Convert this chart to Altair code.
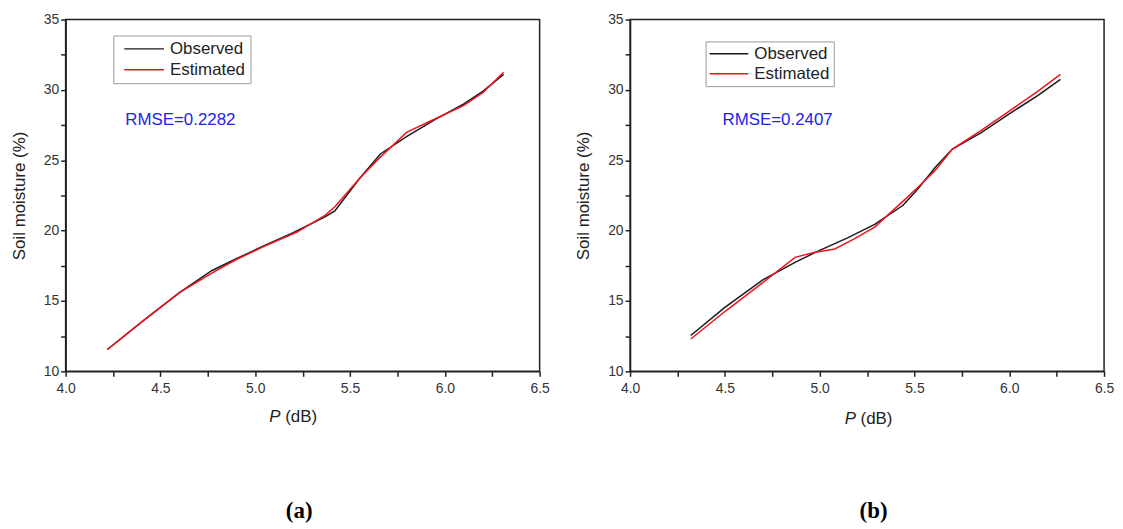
import altair as alt
import pandas as pd

series_names = ["Observed", "Estimated"]
series_colors = ["#1a1a1a", "#f0141e"]

# Panel (a)
a_obs_p = [4.22, 4.40, 4.60, 4.77, 4.90, 5.05, 5.20, 5.37, 5.42, 5.55, 5.66, 5.80, 5.95, 6.10, 6.20, 6.31]
a_obs_sm = [11.55, 13.5, 15.6, 17.15, 18.0, 18.95, 19.85, 21.0, 21.4, 23.7, 25.45, 26.7, 27.9, 29.0, 29.9, 31.1]
a_est_p = [4.22, 4.40, 4.60, 4.78, 4.90, 5.05, 5.22, 5.37, 5.42, 5.55, 5.65, 5.80, 5.95, 6.10, 6.20, 6.31]
a_est_sm = [11.55, 13.5, 15.6, 17.05, 17.95, 18.9, 19.9, 21.1, 21.7, 23.7, 25.1, 27.0, 27.95, 28.9, 29.8, 31.25]

# Panel (b)
b_obs_p = [4.32, 4.50, 4.70, 4.87, 5.00, 5.15, 5.29, 5.44, 5.52, 5.61, 5.70, 5.85, 6.00, 6.15, 6.27]
b_obs_sm = [12.55, 14.55, 16.5, 17.75, 18.6, 19.5, 20.45, 21.8, 23.0, 24.5, 25.8, 26.95, 28.3, 29.6, 30.75]
b_est_p = [4.32, 4.50, 4.70, 4.87, 4.97, 5.08, 5.18, 5.29, 5.44, 5.52, 5.61, 5.70, 5.85, 6.00, 6.15, 6.27]
b_est_sm = [12.3, 14.25, 16.3, 18.1, 18.45, 18.7, 19.4, 20.25, 22.1, 23.1, 24.3, 25.8, 27.1, 28.5, 29.9, 31.1]

x_ticks = [4.0, 4.25, 4.5, 4.75, 5.0, 5.25, 5.5, 5.75, 6.0, 6.25, 6.5]
y_ticks = [10, 12.5, 15, 17.5, 20, 22.5, 25, 27.5, 30, 32.5, 35]
rmse_labels = ["RMSE=0.2282", "RMSE=0.2407"]
captions = ["(a)", "(b)"]
x_title_parts = ["P", "(dB)"]
y_title = "Soil moisture (%)"

W, H = 477, 354
FONT = "Liberation Sans"


def make_df(op, osm, ep, esm):
    rows = []
    for i, (p, s) in enumerate(zip(op, osm)):
        rows.append({"P": p, "SM": s, "series": series_names[0], "i": i})
    for i, (p, s) in enumerate(zip(ep, esm)):
        rows.append({"P": p, "SM": s, "series": series_names[1], "i": i})
    return pd.DataFrame(rows)


def panel(df, rmse, caption, lg, rmse_xy, xt_x, xt_y, cap_x):
    color = alt.Color(
        "series:N",
        scale=alt.Scale(domain=series_names, range=series_colors),
        legend=alt.Legend(
            title=None, orient="none", legendX=lg["x"], legendY=lg["y"],
            symbolType=lg["path"], symbolSize=178, symbolStrokeWidth=1.5,
            labelOffset=lg["offset"], labelFont=FONT, labelFontSize=17,
            labelColor="#222", strokeColor="#999", fillColor="white",
            padding=lg["pad"], rowPadding=lg["row"],
        ),
    )
    x = alt.X(
        "P:Q",
        scale=alt.Scale(domain=[4.0, 6.5], nice=False, zero=False),
        axis=alt.Axis(
            values=x_ticks,
            labelExpr="datum.value * 2 % 1 == 0 ? format(datum.value, '.1f') : ''",
            title=None, grid=False, tickSize=5, tickWidth=1.5, tickColor="#222",
            domainColor="#222", domainWidth=1.5, labelFont=FONT, labelFontSize=14,
            labelColor="#333", labelPadding=5, labelFlush=False, labelOverlap=False,
        ),
    )
    y = alt.Y(
        "SM:Q",
        scale=alt.Scale(domain=[10, 35], nice=False, zero=False),
        axis=alt.Axis(
            values=y_ticks,
            labelExpr="datum.value % 5 == 0 ? format(datum.value, 'd') : ''",
            title=y_title, titleFont=FONT, titleFontSize=17, titleFontWeight="normal",
            titleColor="#222", titlePadding=15, grid=False, tickSize=5, tickWidth=1.5,
            tickColor="#222", domainColor="#222", domainWidth=1.5, labelFont=FONT,
            labelFontSize=14, labelColor="#333", labelPadding=2, labelOverlap=False,
        ),
    )
    base = alt.Chart(df)
    obs = base.transform_filter(alt.datum.series == series_names[0]).mark_line(
        strokeWidth=1.5).encode(x=x, y=y, color=color, order="i:Q")
    est = base.transform_filter(alt.datum.series == series_names[1]).mark_line(
        strokeWidth=1.5).encode(x=x, y=y, color=color, order="i:Q")

    rm = alt.Chart(pd.DataFrame({"t": [rmse]})).mark_text(
        align="left", baseline="middle", font=FONT, fontSize=17, color="#2323e8"
    ).encode(text="t:N", x=alt.value(rmse_xy[0]), y=alt.value(rmse_xy[1]))

    xp = alt.Chart(pd.DataFrame({"t": [x_title_parts[0]]})).mark_text(
        align="left", baseline="middle", font=FONT, fontSize=17, fontStyle="italic", color="#222"
    ).encode(text="t:N", x=alt.value(xt_x), y=alt.value(xt_y))
    xd = alt.Chart(pd.DataFrame({"t": [x_title_parts[1]]})).mark_text(
        align="left", baseline="middle", font=FONT, fontSize=17, color="#222"
    ).encode(text="t:N", x=alt.value(xt_x + 16), y=alt.value(xt_y))

    cap = alt.Chart(pd.DataFrame({"t": [caption]})).mark_text(
        align="center", baseline="middle", font="Liberation Serif", fontSize=23,
        fontWeight="bold", color="#000"
    ).encode(text="t:N", x=alt.value(cap_x), y=alt.value(495))

    return alt.layer(obs, est, rm, xp, xd, cap).properties(width=W, height=H)


df_a = make_df(a_obs_p, a_obs_sm, a_est_p, a_est_sm)
df_b = make_df(b_obs_p, b_obs_sm, b_est_p, b_est_sm)

left = panel(
    df_a, rmse_labels[0], captions[0],
    {"x": 48, "y": 16, "path": "M-0.375,0H5.62", "offset": 35, "pad": 5, "row": 3},
    (60, 101), 205, 400, 235,
)
right = panel(
    df_b, rmse_labels[1], captions[1],
    {"x": 76, "y": 22, "path": "M-1.27,0H4.57", "offset": 28, "pad": 4, "row": 2},
    (93, 101), 216, 402, 245,
)

chart = (
    alt.hconcat(left, right, spacing=23)
    .resolve_scale(color="independent")
    .resolve_legend(color="independent")
    .properties(padding={"left": 1, "top": 2, "right": 0, "bottom": 0}, background="white")
    .configure_view(stroke="#222", strokeWidth=1.5)
)

chart.save("out.html", embed_options={"renderer": "svg", "actions": False})
